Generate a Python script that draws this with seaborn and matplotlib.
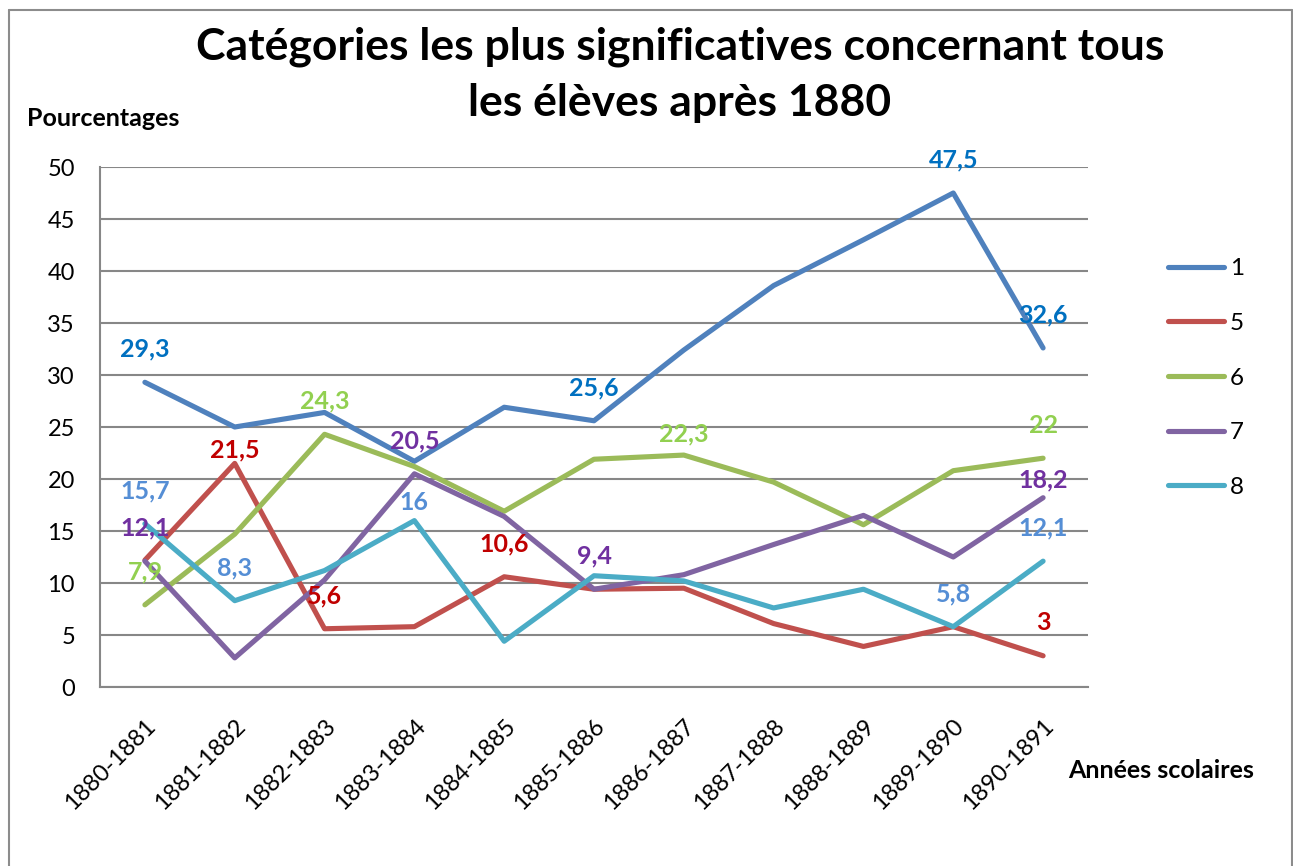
import matplotlib
matplotlib.use("Agg")
import matplotlib.pyplot as plt
from matplotlib.lines import Line2D
import seaborn as sns
import pandas as pd
import numpy as np

# ---------------- data ----------------
years = ["1880-1881", "1881-1882", "1882-1883", "1883-1884", "1884-1885", "1885-1886",
         "1886-1887", "1887-1888", "1888-1889", "1889-1890", "1890-1891"]
series_names = ["1", "5", "6", "7", "8"]
cat1 = [29.3, 25.0, 26.4, 21.7, 26.9, 25.6, 32.4, 38.6, 43.0, 47.5, 32.6]
cat5 = [12.2, 21.5, 5.6, 5.8, 10.6, 9.4, 9.5, 6.1, 3.9, 5.8, 3.0]
cat6 = [7.9, 14.7, 24.3, 21.2, 16.9, 21.9, 22.3, 19.7, 15.6, 20.8, 22.0]
cat7 = [12.1, 2.8, 10.3, 20.5, 16.4, 9.4, 10.8, 13.7, 16.5, 12.5, 18.2]
cat8 = [15.7, 8.3, 11.2, 16.0, 4.4, 10.7, 10.2, 7.6, 9.4, 5.8, 12.1]
values = {"1": cat1, "5": cat5, "6": cat6, "7": cat7, "8": cat8}

# points carrying a data label: series -> indices
labelled = {"1": [0, 5, 9, 10], "5": [1, 2, 4, 10], "6": [0, 2, 6, 10],
            "7": [0, 3, 5, 10], "8": [0, 1, 3, 9, 10]}

title_line1 = "Catégories les plus significatives concernant tous"
title_line2 = "les élèves après 1880"
ylabel = "Pourcentages"
xlabel = "Années scolaires"

# ---------------- style ----------------
line_colors = {"1": "#4F81BD", "5": "#C0504D", "6": "#9BBB59", "7": "#8064A2", "8": "#4BACC6"}
label_colors = {"1": "#0070C0", "5": "#C00000", "6": "#92D050", "7": "#7030A0", "8": "#558ED5"}
default_dy_px = 33
special_dy_px = {("5", 1): 13, ("6", 6): 21, ("7", 10): 18, ("8", 3): 18}

W, H = 1293, 866
PX = 72 / 100.0  # points per pixel

df = pd.DataFrame(
    [(y, s, v) for s in series_names for y, v in zip(years, values[s])],
    columns=["year", "series", "value"],
)

sns.set_theme(style="white")
plt.rcParams["font.family"] = ["Lato", "DejaVu Sans"]
plt.rcParams["text.color"] = "black"
plt.rcParams["xtick.color"] = "black"
plt.rcParams["ytick.color"] = "black"

fig = plt.figure(figsize=(W / 100, H / 100), dpi=100)
ax = fig.add_axes([100 / W, 1 - 687 / H, 988 / W, 520 / H])

grid_col = "#878787"

sns.lineplot(data=df, x="year", y="value", hue="series", hue_order=series_names,
             palette=line_colors, linewidth=3.7, ax=ax, legend=False, sort=False,
             solid_capstyle="round", solid_joinstyle="round")

ax.set_xlim(-0.5, len(years) - 0.5)
ax.set_ylim(0, 50)
ax.set_yticks(np.arange(0, 51, 5))
ax.yaxis.grid(True, color=grid_col, linewidth=1.5)
ax.set_axisbelow(True)
for side in ["top", "right"]:
    ax.spines[side].set_visible(False)
for side in ["left", "bottom"]:
    ax.spines[side].set_color(grid_col)
    ax.spines[side].set_linewidth(1.5)

ax.set_xticks(range(len(years)))
ax.set_xticklabels(years, rotation=45, ha="right", va="top", rotation_mode="anchor")
ax.set_xticks(np.arange(-0.5, len(years), 1.0), minor=True)
ax.tick_params(axis="x", which="major", length=0, pad=28 * PX, labelsize=17, labelcolor="black")
ax.tick_params(axis="x", which="minor", length=8 * PX, width=1.5, color=grid_col, direction="out")
ax.tick_params(axis="y", which="major", length=9 * PX, width=1.5, color=grid_col,
               direction="out", pad=16 * PX, labelsize=17, labelcolor="black")
ax.set_xlabel("")
ax.set_ylabel("")

# data labels
for s in series_names:
    for i in labelled[s]:
        v = values[s][i]
        txt = f"{v:g}".replace(".", ",")
        dy = special_dy_px.get((s, i), default_dy_px)
        ax.annotate(txt, xy=(i, v), xytext=(0, dy * PX), textcoords="offset points",
                    ha="center", va="center", fontsize=18, fontweight="bold",
                    color=label_colors[s])

# titles / axis titles
fig.text(680 / W, 1 - 47 / H, title_line1, ha="center", va="center", fontsize=32,
         fontweight="bold", color="black")
fig.text(680 / W, 1 - 103 / H, title_line2, ha="center", va="center", fontsize=32,
         fontweight="bold", color="black")
fig.text(27 / W, 1 - 118 / H, ylabel, ha="left", va="center", fontsize=18, fontweight="bold",
         color="black")
fig.text(1068 / W, 1 - 771 / H, xlabel, ha="left", va="center", fontsize=18, fontweight="bold",
         color="black")

# legend
handles = [Line2D([0], [0], color=line_colors[s], lw=3.7, solid_capstyle="round") for s in series_names]
fig.legend(handles, series_names, loc="center left", bbox_to_anchor=(1168 / W, 1 - 378 / H),
           frameon=False, fontsize=17.5, handlelength=2.3, handletextpad=0.25,
           labelspacing=1.38, borderpad=0, borderaxespad=0, labelcolor="black")

# chart border
bc = "#8c8c8c"
fig.add_artist(Line2D([8.5 / W, 8.5 / W], [0, 1 - 10 / H], color=bc, lw=1.5))
fig.add_artist(Line2D([8.5 / W, 1291.5 / W], [1 - 10 / H, 1 - 10 / H], color=bc, lw=1.5))
fig.add_artist(Line2D([1291.5 / W, 1291.5 / W], [0, 1 - 10 / H], color=bc, lw=1.5))

fig.savefig("out.png", dpi=100)
